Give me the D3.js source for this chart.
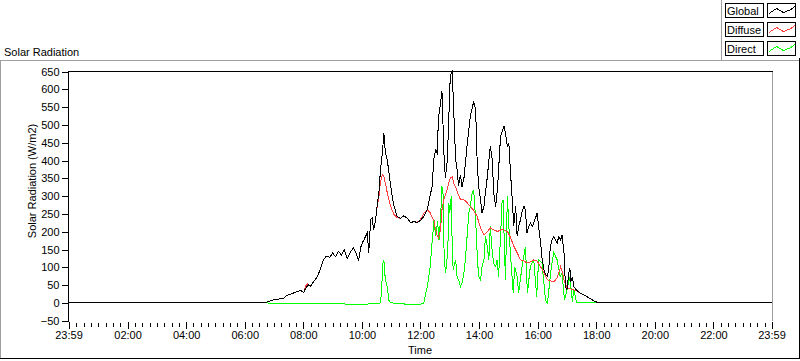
<!DOCTYPE html>
<html><head><meta charset="utf-8">
<script src="https://cdn.jsdelivr.net/npm/d3@7"></script>
<style>
html,body{margin:0;padding:0;background:#fff;}
svg{display:block;font-family:"Liberation Sans",Arial,sans-serif;font-size:11px;}
</style></head><body>
<svg id="chart" width="800" height="361"></svg>
<script>
// ---------- DATA ----------
const chartTitle = "Solar Radiation";
const yAxisTitle = "Solar Radiation (W/m2)";
const xAxisTitle = "Time";
const seriesNames = ["Global", "Diffuse", "Direct"];
const seriesColors = ["#000000", "#ff4040", "#00ff00"];
const yTicks = [-50, 0, 50, 100, 150, 200, 250, 300, 350, 400, 450, 500, 550, 600, 650];
const xMajorTicks = ["23:59", "02:00", "04:00", "06:00", "08:00", "10:00", "12:00", "14:00", "16:00", "18:00", "20:00", "22:00", "23:59"];

const globalTime = ["00:00","06:38","06:49","06:59","07:09","07:19","07:27","07:34","07:40","07:48",
"07:55","08:01","08:04","08:11","08:15","08:21","08:28","08:35","08:41","08:47",
"08:54","09:00","09:06","09:12","09:18","09:24","09:30","09:37","09:43","09:49",
"09:53","09:58","10:01","10:04","10:11","10:14","10:18","10:21","10:24","10:28",
"10:31","10:35","10:38","10:42","10:45","10:48","10:52","10:59","11:05","11:12",
"11:19","11:26","11:33","11:40","11:46","11:53","12:00","12:07","12:14","12:20",
"12:24","12:27","12:31","12:34","12:37","12:41","12:44","12:48","12:51","12:55",
"12:58","13:01","13:05","13:08","13:12","13:15","13:18","13:22","13:25","13:29",
"13:36","13:42","13:49","13:53","13:56","13:59","14:03","14:06","14:10","14:13",
"14:17","14:20","14:23","14:27","14:30","14:34","14:38","14:44","14:47","14:51",
"14:54","14:58","15:01","15:04","15:08","15:11","15:15","15:18","15:21","15:25",
"15:28","15:32","15:35","15:38","15:42","15:45","15:49","15:52","15:56","15:59",
"16:02","16:06","16:09","16:13","16:16","16:20","16:23","16:26","16:30","16:33",
"16:37","16:40","16:43","16:47","16:50","16:54","16:57","17:00","17:04","17:06",
"17:08","17:11","17:14","17:21","17:28","17:41","17:55","18:05","23:59"];
const globalValue = [0,0,4,9,11,12,22,25,28,32,
35,29,40,52,47,60,72,95,120,132,
128,140,130,145,135,150,125,145,155,138,
118,158,169,177,197,141,234,239,205,234,
271,313,374,422,478,422,402,327,276,243,
238,245,238,225,229,226,232,243,262,304,
327,402,430,422,520,560,595,420,350,402,
520,637,653,543,402,374,330,360,326,350,
450,523,566,543,402,330,290,253,271,310,
355,400,440,402,309,271,327,468,480,496,
478,440,450,374,290,215,271,187,215,234,
255,271,262,197,215,225,215,225,240,253,
215,169,125,93,80,74,102,158,180,187,
175,169,185,177,191,141,46,37,85,98,
60,74,46,34,27,18,6,0,0];

const diffuseTime = ["00:00","06:38","06:49","06:59","07:09","07:19","07:27","07:34","07:40","07:48",
"07:55","08:01","08:04","08:08","08:11","08:15","08:21","08:28","08:35","08:41",
"08:47","08:54","09:00","09:06","09:12","09:18","09:24","09:30","09:37","09:43",
"09:49","09:53","09:58","10:01","10:04","10:11","10:14","10:18","10:21","10:24",
"10:28","10:31","10:35","10:38","10:42","10:45","10:48","10:52","10:59","11:05",
"11:12","11:19","11:26","11:33","11:40","11:46","11:53","12:00","12:07","12:14",
"12:20","12:24","12:27","12:31","12:34","12:37","12:41","12:44","12:48","12:51",
"12:55","12:58","13:01","13:05","13:08","13:12","13:15","13:22","13:29","13:36",
"13:42","13:49","13:56","14:03","14:10","14:17","14:23","14:30","14:38","14:44",
"14:51","14:58","15:04","15:11","15:18","15:25","15:32","15:38","15:45","15:52",
"15:59","16:06","16:13","16:20","16:27","16:33","16:40","16:47","16:50","16:54",
"17:00","17:07","17:14","17:21","17:28","17:41","17:55","18:05","23:59"];
const diffuseValue = [0,0,4,9,11,12,22,25,28,32,
35,29,45,55,50,47,60,72,95,120,
132,128,140,130,145,135,150,125,145,155,
138,118,158,169,177,197,141,234,239,205,
234,268,300,340,360,355,337,309,271,250,
240,238,245,238,225,229,226,234,253,262,
253,240,234,205,190,183,205,262,290,304,
320,337,350,355,337,325,313,290,290,281,
271,260,243,210,191,200,211,205,201,205,
205,201,185,160,141,121,118,112,115,121,
118,102,85,65,62,60,70,102,90,65,
42,40,37,33,27,18,6,0,0];

const directTime = ["00:00","06:45","07:30","08:00","08:30","09:00","09:30","09:50","10:00","10:10",
"10:35","10:38","10:40","10:43","10:45","10:48","10:52","10:55","10:59","11:10",
"11:30","12:00","12:07","12:10","12:14","12:17","12:20","12:24","12:26","12:28",
"12:31","12:33","12:35","12:38","12:41","12:44","12:46","12:48","12:51","12:53",
"12:56","12:58","13:00","13:03","13:05","13:07","13:10","13:12","13:15","13:18",
"13:22","13:25","13:29","13:32","13:36","13:39","13:42","13:46","13:49","13:53",
"13:56","13:59","14:03","14:06","14:10","14:13","14:17","14:20","14:23","14:27",
"14:30","14:34","14:37","14:40","14:44","14:47","14:49","14:54","14:58","15:01",
"15:04","15:10","15:13","15:18","15:21","15:28","15:35","15:39","15:45","15:52",
"15:58","16:02","16:09","16:16","16:20","16:23","16:28","16:33","16:40","16:46",
"16:50","16:55","17:00","17:06","17:11","17:14","17:20","23:59"];
const directValue = [0,0,-1,-1,-2,-2,-3,-3,-5,-3,
-1,0,28,112,121,65,46,8,1,-2,
-3,-3,0,22,46,74,102,177,205,234,
187,205,229,177,234,327,318,158,84,102,
149,281,253,299,158,93,112,121,74,65,
46,56,84,121,197,253,271,309,318,234,
141,74,65,102,121,187,158,121,215,141,
112,102,121,74,187,281,290,65,300,215,
141,28,102,74,28,102,158,28,102,121,
18,121,112,8,0,37,102,141,121,74,
84,8,37,74,4,37,0,0];

// ---------- DRAWING ----------
const toMin = s => { const [h, m] = s.split(":").map(Number); return h * 60 + m; };
const svg = d3.select("#chart");
const x = d3.scaleLinear().domain([-1, 1439]).range([68.5, 771.5]);
const y = d3.scaleLinear().domain([-50, 650]).range([320.8, 71.5]);

// outer panel border
const g0 = svg.append("g").attr("shape-rendering", "crispEdges");
g0.append("line").attr("x1", 0).attr("x2", 800).attr("y1", 60.5).attr("y2", 60.5).attr("stroke", "#a0a0a0");
g0.append("line").attr("x1", 0.5).attr("x2", 0.5).attr("y1", 60).attr("y2", 359).attr("stroke", "#a0a0a0");
g0.append("line").attr("x1", 0).attr("x2", 800).attr("y1", 358.5).attr("y2", 358.5).attr("stroke", "#000");
g0.append("line").attr("x1", 799.5).attr("x2", 799.5).attr("y1", 58).attr("y2", 359).attr("stroke", "#000");
// legend border
g0.append("line").attr("x1", 721.5).attr("x2", 721.5).attr("y1", 0).attr("y2", 61).attr("stroke", "#a0a0a0");

// title
svg.append("text").attr("x", 4).attr("y", 56).attr("fill", "#000").text(chartTitle);

// data lines (direct, diffuse, global on top)
const series = [
  {t: globalTime, v: globalValue},
  {t: diffuseTime, v: diffuseValue},
  {t: directTime, v: directValue}
];
const line = d3.line().x(d => x(d[0])).y(d => y(d[1]));
[2, 1, 0].forEach(i => {
  const s = series[i];
  const pts = s.t.map((t, k) => [toMin(t), s.v[k]]);
  svg.append("path").datum(pts).attr("d", line)
    .attr("fill", "none").attr("stroke", seriesColors[i]).attr("stroke-width", 1)
    .attr("shape-rendering", "crispEdges");
});

// plot frame
const gf = svg.append("g").attr("shape-rendering", "crispEdges");
gf.append("line").attr("x1", 68).attr("x2", 773).attr("y1", 71.5).attr("y2", 71.5).attr("stroke", "#000");
gf.append("line").attr("x1", 68.5).attr("x2", 68.5).attr("y1", 71).attr("y2", 322).attr("stroke", "#000");
gf.append("line").attr("x1", 772.5).attr("x2", 772.5).attr("y1", 72).attr("y2", 321).attr("stroke", "#a0a0a0");

// y axis
const yAxis = d3.axisLeft(y).tickValues(yTicks).tickSize(7).tickPadding(2).tickFormat(d3.format("d"));
const gy = svg.append("g").attr("transform", "translate(68.5,0)").call(yAxis);
gy.select(".domain").remove();
gy.selectAll(".tick line").attr("stroke", "#000").attr("shape-rendering", "crispEdges");
gy.selectAll(".tick text").attr("fill", "#000").style("font-family", '"Liberation Sans",Arial,sans-serif').style("font-size", "11px");

// x axis: minor ticks every 15 min, major every 2 h
const majorVals = xMajorTicks.map((s, i) => i === 0 ? -1 : toMin(s));
const minorVals = d3.range(15, 1439, 15).filter(v => v % 120 !== 0);
const gxMinor = svg.append("g").attr("transform", "translate(0,323)")
  .call(d3.axisBottom(x).tickValues(minorVals).tickSize(4).tickFormat(""));
gxMinor.select(".domain").remove();
gxMinor.selectAll(".tick line").attr("stroke", "#000").attr("shape-rendering", "crispEdges");
const gx = svg.append("g").attr("transform", "translate(0,322)")
  .call(d3.axisBottom(x).tickValues(majorVals).tickSize(7).tickPadding(2)
    .tickFormat((d, i) => xMajorTicks[i]));
gx.select(".domain").remove();
gx.selectAll(".tick line").attr("stroke", "#000").attr("shape-rendering", "crispEdges");
gx.selectAll(".tick text").attr("fill", "#000").style("font-family", '"Liberation Sans",Arial,sans-serif').style("font-size", "11px");

// axis titles
svg.append("text").attr("x", 420).attr("y", 354).attr("text-anchor", "middle").attr("fill", "#000").text(xAxisTitle);
svg.append("text").attr("transform", "translate(36,181) rotate(-90)").attr("text-anchor", "middle").attr("fill", "#000").text(yAxisTitle);

// legend
const swatchPts = [[1.5, 10], [9, 5], [16, 9], [22.5, 6.5], [27.5, 3]];
seriesNames.forEach((name, i) => {
  const top = 3.5 + 19 * i;
  const lg = svg.append("g");
  lg.append("rect").attr("x", 725.5).attr("y", top).attr("width", 38).attr("height", 14)
    .attr("fill", "#fff").attr("stroke", "#000").attr("shape-rendering", "crispEdges");
  lg.append("text").attr("x", 727).attr("y", top + 11.5).attr("fill", "#000").text(name);
  lg.append("rect").attr("x", 767.5).attr("y", top).attr("width", 28).attr("height", 14)
    .attr("fill", "#fff").attr("stroke", "#000").attr("shape-rendering", "crispEdges");
  lg.append("path").attr("d", d3.line()(swatchPts.map(p => [767.5 + p[0], top + p[1]])))
    .attr("fill", "none").attr("stroke", seriesColors[i]).attr("shape-rendering", "crispEdges");
});
</script>
</body></html>
